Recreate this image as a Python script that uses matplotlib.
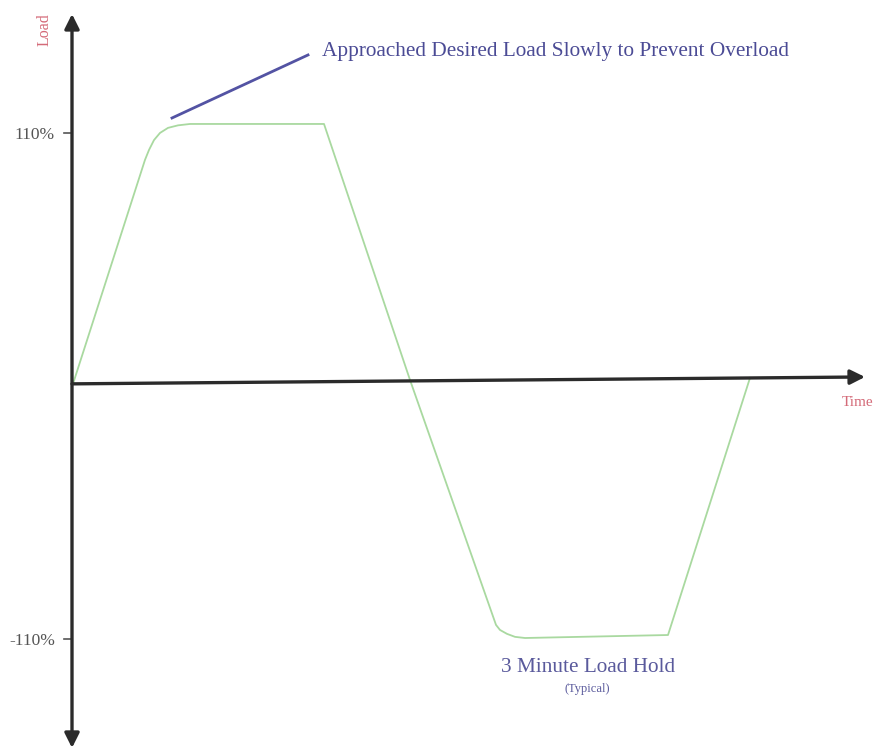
import matplotlib.pyplot as plt

plt.rcParams['font.family'] = ['Liberation Serif', 'DejaVu Serif']

# load profile (time in arbitrary units, load in %)
time = [0.1, 7.3, 7.7, 8.2, 8.8, 9.6, 10.6, 11.8, 25.2,
        33.8, 42.4, 42.8, 43.5, 44.3, 45.3, 59.6, 67.8]
load = [0.9, 98.3, 102.6, 106.9, 110.0, 112.2, 113.3, 113.9, 113.9,
        2.6, -103.9, -106.1, -107.8, -109.1, -109.6, -108.3, 3.5]

tick_vals = [110, -110]
tick_labels = ['110%', '-110%']

fig = plt.figure(figsize=(8.8, 7.53), dpi=100)
ax = fig.add_axes([0, 0, 1, 1])
ax.set_xlim(-7.2, 80.8)
ax.set_ylim(-159.6, 167.8)
ax.axis('off')

ax.plot(time, load, color='#a9d9a0', lw=1.3)

# axes with arrows (the horizontal one is drawn with a slight tilt)
ax.annotate('', xy=(79.3, 3.9), xytext=(0, 0.9),
            arrowprops=dict(arrowstyle='-|>', color='#2b2b2b', lw=2.4,
                            mutation_scale=22, shrinkA=0, shrinkB=0))
ax.annotate('', xy=(0, 161.7), xytext=(0, -157.4),
            arrowprops=dict(arrowstyle='<|-|>', color='#2b2b2b', lw=2.4,
                            mutation_scale=22, shrinkA=0, shrinkB=0))

for v, lab in zip(tick_vals, tick_labels):
    ax.plot([-0.8, 0], [v, v], color='#555555', lw=1.2)
    ax.text(-1.7, v - 1, lab, ha='right', va='center', fontsize=12.5, color='#555555')

ax.text(-2.7, 154.8, 'Load', rotation=90, ha='center', va='center',
        fontsize=11.5, color='#d46a78')
ax.text(78.6, -7, 'Time', ha='center', va='center', fontsize=11, color='#d46a78')

# annotations
ax.plot([10.0, 23.6], [116.5, 143.9], color='#5353a3', lw=2)
ax.text(25.0, 145.2, 'Approached Desired Load Slowly to Prevent Overload',
        ha='left', va='center', fontsize=15.3, color='#4b4b95')
ax.text(51.6, -122.6, '3 Minute Load Hold', ha='center', va='center',
        fontsize=15.3, color='#5a5a9c')
ax.text(51.5, -131.7, '(Typical)', ha='center', va='center',
        fontsize=9, color='#5a5a9c')

fig.savefig('out.png', dpi=100)
